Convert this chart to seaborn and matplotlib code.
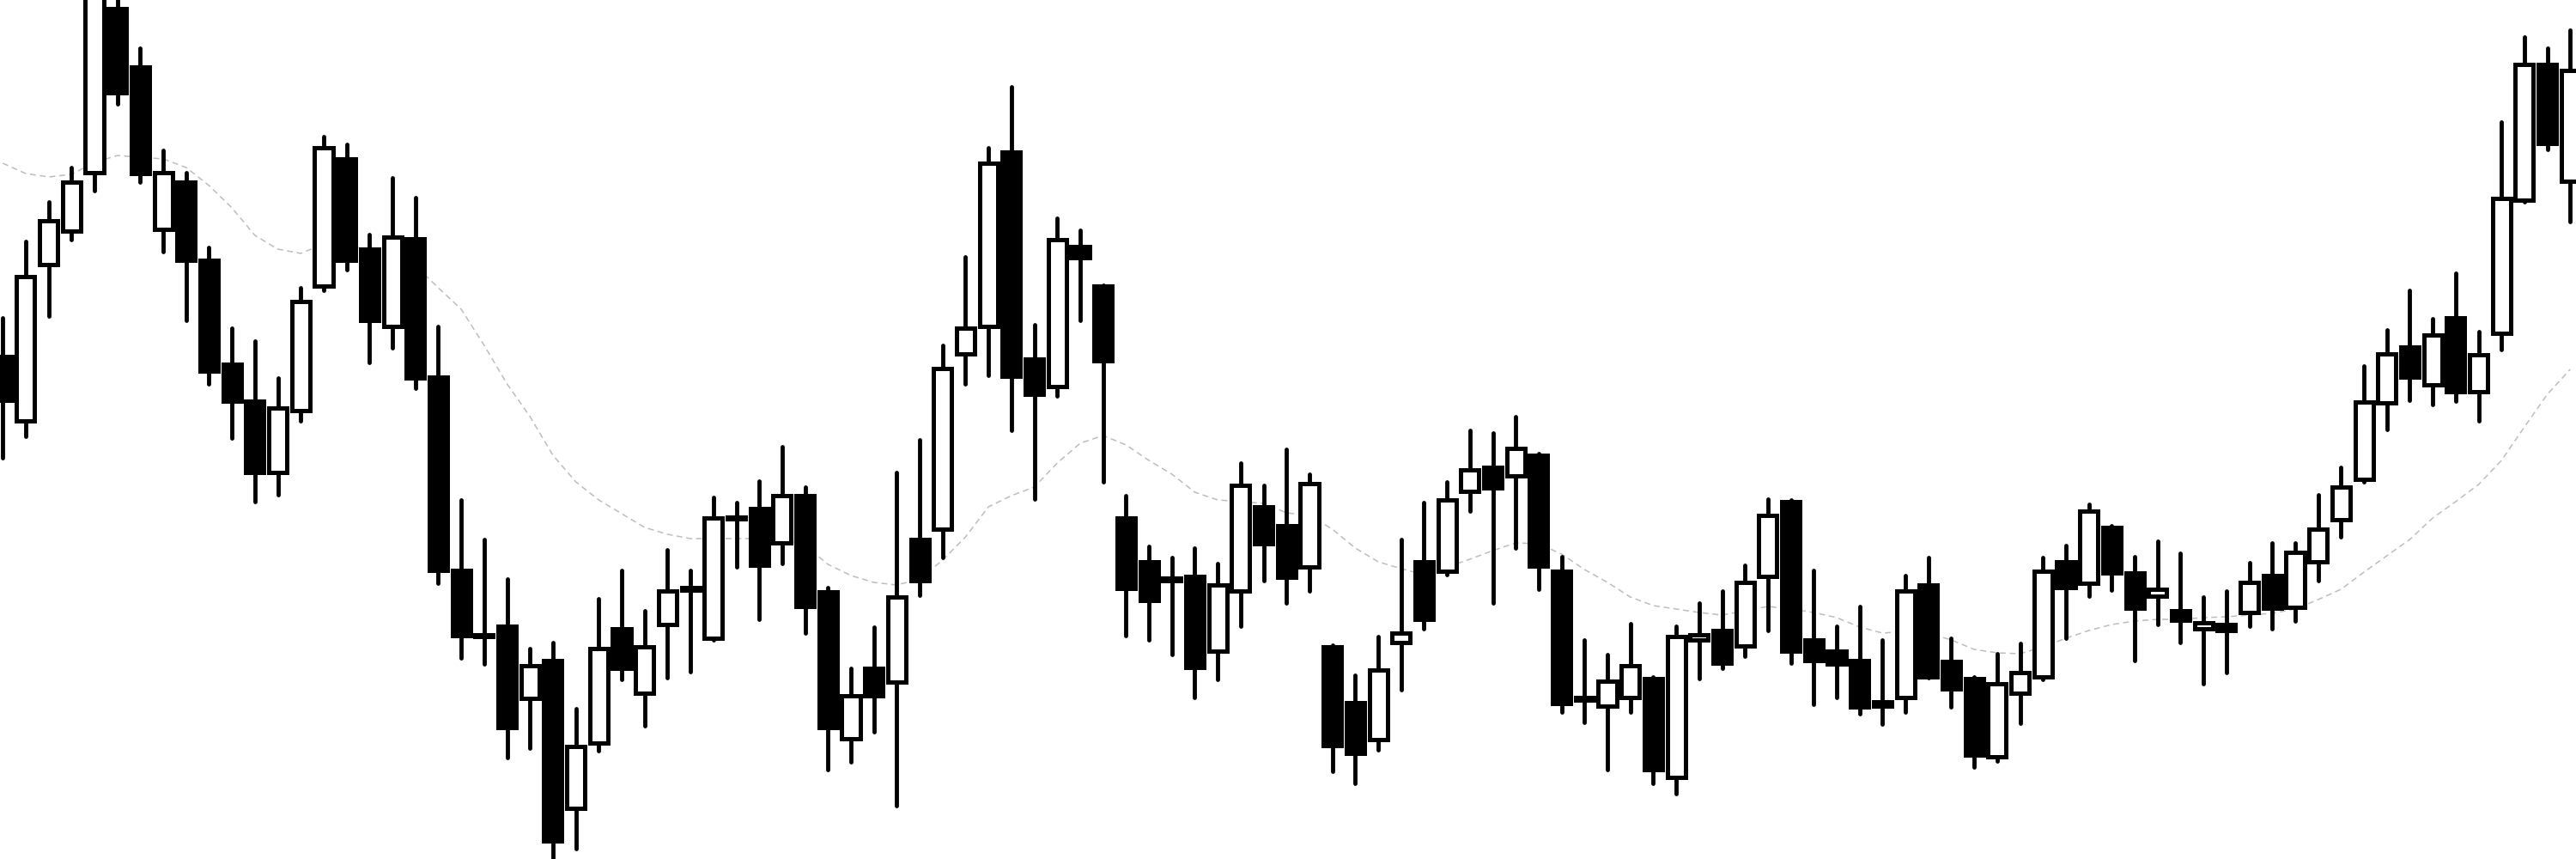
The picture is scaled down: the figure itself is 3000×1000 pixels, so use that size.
import numpy as np
import matplotlib
matplotlib.use("Agg")
import matplotlib.pyplot as plt
import seaborn as sns

# OHLC values (price units, 0-100 visible range)
opens = [58.5, 51.0, 69.2, 73.1, 79.9, 99.0, 92.2, 73.3, 78.8, 69.7,
         57.6, 53.3, 45.0, 52.2, 66.7, 81.5, 71.0, 62.0, 72.2, 56.1,
         33.6, 26.0, 27.1, 18.7, 23.1, 5.9, 13.5, 26.8, 19.3, 27.3,
         31.6, 25.7, 39.8, 40.8, 36.8, 42.3, 31.1, 14.0, 22.2, 20.6,
         37.2, 38.4, 58.8, 62.0, 82.3, 58.2, 55.0, 71.3, 66.7, 39.7,
         34.6, 32.7, 32.9, 24.2, 31.2, 41.0, 38.8, 34.0, 24.7, 18.2,
         13.9, 25.2, 34.6, 33.5, 42.8, 45.6, 44.6, 47.0, 33.5, 18.8,
         17.8, 18.8, 21.0, 9.5, 25.5, 26.6, 24.8, 32.9, 41.6, 25.5,
         24.2, 23.1, 17.8, 18.8, 31.9, 23.0, 21.0, 11.9, 19.3, 21.2,
         34.6, 32.1, 38.6, 33.3, 30.6, 28.9, 26.8, 27.3, 28.7, 33.0,
         29.3, 34.6, 39.5, 44.2, 53.1, 59.6, 55.2, 63.0, 54.4, 61.2,
         76.7, 92.5, 78.9]
highs = [63.0, 71.9, 76.5, 80.5, 103.0, 101.0, 94.4, 82.5, 79.9, 71.2,
         61.8, 60.3, 56.0, 66.5, 84.1, 83.2, 72.7, 79.3, 77.0, 62.0,
         41.8, 37.2, 32.6, 24.5, 25.2, 17.5, 30.3, 33.6, 28.9, 36.0,
         33.6, 42.1, 41.5, 44.0, 48.0, 43.3, 31.6, 22.2, 27.0, 45.0,
         48.8, 59.8, 70.1, 82.8, 89.9, 62.2, 74.6, 73.2, 66.8, 42.3,
         36.4, 35.1, 36.2, 34.4, 46.1, 43.5, 47.7, 44.8, 24.9, 21.4,
         25.9, 37.2, 41.5, 43.9, 49.9, 49.6, 51.5, 47.2, 35.2, 25.5,
         23.8, 27.4, 21.2, 27.1, 29.8, 31.2, 34.2, 41.9, 41.8, 33.6,
         27.1, 29.4, 25.5, 33.0, 35.1, 25.7, 21.2, 23.9, 25.1, 35.1,
         36.5, 41.3, 38.8, 35.2, 37.0, 35.6, 30.5, 31.2, 34.5, 36.8,
         36.8, 42.4, 45.6, 57.4, 61.6, 66.2, 62.9, 68.2, 61.4, 85.8,
         95.7, 94.4, 96.5]
lows = [46.7, 49.2, 63.2, 72.1, 77.8, 87.9, 78.8, 70.7, 62.7, 55.3,
        49.0, 41.6, 42.4, 51.0, 66.2, 68.6, 57.8, 59.5, 54.8, 32.1,
        23.4, 22.7, 11.8, 12.9, -1.0, 1.2, 12.6, 20.9, 15.5, 21.1,
        21.8, 25.5, 34.0, 27.9, 34.4, 26.3, 10.4, 11.3, 14.8, 6.2,
        30.7, 35.1, 55.3, 56.3, 49.9, 41.9, 53.9, 62.7, 43.9, 26.0,
        25.5, 23.8, 18.8, 20.9, 27.1, 32.4, 29.8, 31.2, 10.2, 8.8,
        12.7, 19.7, 26.8, 33.1, 40.5, 29.8, 36.2, 31.4, 17.1, 15.9,
        10.4, 17.1, 8.8, 7.6, 21.0, 22.2, 23.6, 26.6, 22.8, 18.0,
        18.8, 16.9, 15.7, 17.1, 21.1, 17.7, 10.7, 11.4, 15.8, 20.9,
        25.7, 30.6, 31.3, 23.1, 27.3, 25.2, 20.4, 21.7, 27.1, 26.8,
        27.7, 32.4, 37.5, 43.9, 50.0, 53.4, 52.9, 53.3, 51.0, 59.3,
        76.5, 82.6, 74.2]
closes = [53.4, 67.8, 74.3, 78.8, 101.0, 89.2, 79.8, 79.9, 69.7, 56.8,
          53.3, 45.0, 52.5, 64.9, 82.8, 69.7, 62.7, 72.4, 56.0, 33.6,
          26.0, 25.9, 15.3, 22.5, 2.1, 13.1, 24.5, 22.2, 24.7, 31.2,
          31.3, 39.7, 39.6, 34.2, 42.3, 29.4, 15.3, 19.0, 19.0, 30.5,
          32.4, 57.1, 61.8, 81.0, 56.2, 54.1, 72.1, 70.0, 58.0, 31.5,
          30.1, 32.4, 22.3, 31.9, 43.5, 36.7, 32.8, 43.7, 13.2, 12.3,
          22.0, 26.3, 27.9, 41.8, 45.3, 43.2, 47.8, 34.1, 18.1, 18.5,
          20.7, 22.5, 10.4, 25.9, 26.1, 22.8, 32.2, 40.0, 24.2, 23.1,
          22.7, 17.7, 18.3, 31.2, 21.2, 19.8, 12.1, 20.4, 21.7, 33.5,
          31.6, 40.5, 33.3, 29.2, 31.4, 27.8, 27.5, 26.6, 32.2, 29.2,
          35.7, 38.4, 43.3, 53.2, 58.8, 56.1, 61.0, 54.4, 58.7, 76.9,
          92.5, 83.3, 91.8]
# moving average line as drawn on the reference
ma = [81.0, 79.8, 79.4, 79.7, 81.1, 81.9, 81.7, 81.5, 80.5, 78.4,
      75.8, 72.6, 71.0, 70.5, 71.6, 71.4, 71.0, 70.7, 69.1, 66.5,
      64.0, 59.8, 55.3, 51.5, 47.0, 43.9, 41.8, 40.2, 38.6, 37.8,
      37.3, 37.3, 37.3, 37.3, 37.3, 36.5, 34.3, 33.0, 32.2, 31.9,
      32.6, 34.8, 37.5, 41.0, 42.3, 43.3, 46.1, 48.4, 49.3, 48.2,
      46.4, 44.8, 42.7, 41.8, 41.6, 41.4, 40.3, 40.0, 38.4, 36.2,
      34.6, 33.8, 33.1, 34.0, 34.9, 35.9, 36.8, 36.7, 35.5, 33.7,
      32.2, 30.5, 29.5, 29.1, 28.7, 28.4, 28.9, 29.4, 29.1, 28.7,
      28.1, 27.0, 26.3, 26.5, 26.3, 25.5, 24.4, 24.0, 23.9, 24.7,
      25.7, 26.6, 27.3, 27.7, 27.9, 27.9, 28.1, 28.2, 28.4, 28.6,
      29.1, 30.2, 31.4, 33.4, 35.3, 37.2, 39.7, 41.6, 43.6, 46.4,
      50.3, 54.1, 57.0]

o = np.array(opens)
c = np.array(closes)
x = np.arange(len(o))
up = c >= o

sns.set_style("white")
fig = plt.figure(figsize=(30, 10), dpi=100)
ax = fig.add_axes([0, 0, 1, 1])

sns.lineplot(x=x, y=ma, ax=ax, color="#bdbdbd", linewidth=1.1, zorder=1)
ax.lines[-1].set_dashes([4.5, 3])

wicks = ax.vlines(x, lows, highs, colors="black", linewidth=3.5, zorder=2)
wicks.set_capstyle("round")

bottoms = np.minimum(o, c)
heights = np.maximum(np.abs(c - o), 0.25)
ax.bar(x, heights, bottom=bottoms, width=0.79,
       color=np.where(up, "white", "black"), edgecolor="black",
       linewidth=3.6, zorder=3)

ax.set_xlim(-0.12, 112.25)
ax.set_ylim(0, 100)
ax.axis("off")

fig.savefig("out.png", dpi=100, facecolor="white")
